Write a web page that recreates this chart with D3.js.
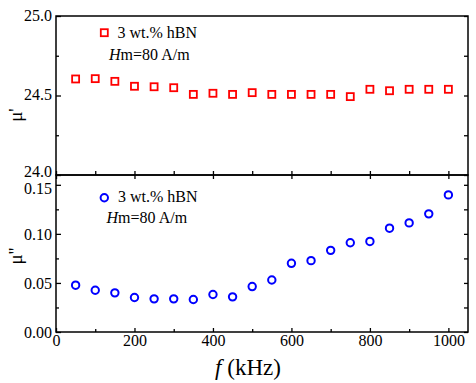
<!DOCTYPE html>
<html><head><meta charset="utf-8">
<script src="https://cdn.jsdelivr.net/npm/d3@7"></script>
<style>
body{margin:0;background:#fff;}
svg, svg text{font-family:"Liberation Serif","Times New Roman",serif !important;}
</style></head>
<body><svg id="c" width="476" height="383"></svg>
<script>
const freq = [50,100,150,200,250,300,350,400,450,500,550,600,650,700,750,800,850,900,950,1000];
const muReal = [24.604,24.606,24.589,24.558,24.555,24.549,24.507,24.514,24.507,24.518,24.507,24.507,24.507,24.507,24.493,24.539,24.530,24.539,24.539,24.539];
const muImag = [0.0477,0.0426,0.0399,0.0352,0.0338,0.0338,0.0331,0.0382,0.0358,0.0463,0.0530,0.0700,0.0727,0.0832,0.0910,0.0923,0.1058,0.1112,0.1204,0.1397];
const xTicks = [0,200,400,600,800,1000];
const xMinor = [100,300,500,700,900];
const topTicks = [24.0,24.5,25.0];
const topMinor = [24.25,24.75];
const botTicks = [0.00,0.05,0.10,0.15];
const botMinor = [0.025,0.075,0.125];
const legendText = "3 wt.% hBN";

const FF = "'Liberation Serif','Times New Roman',serif";
const svg = d3.select("#c");
const L = 56, R = 468;
const x = d3.scaleLinear().domain([0,1050]).range([L,R]);
const yT = d3.scaleLinear().domain([24,25]).range([175,16]);
const yB = d3.scaleLinear().domain([0,0.16]).range([332,175]);

function styleAxis(g){
  g.attr("font-family",FF);
  g.select(".domain").remove();
  g.selectAll(".tick line").attr("stroke","#000").attr("stroke-width",1.3);
  g.selectAll("text").style("font-family",FF).attr("font-size",16).attr("fill","#000");
}

// Top panel axes
svg.append("g").attr("transform",`translate(${L},0)`)
  .call(d3.axisLeft(yT).tickValues(topTicks).tickFormat(d3.format(".1f")).tickSize(-5).tickPadding(4)).call(styleAxis)
  .selectAll("text").attr("dy", d => d === 24 ? "0.1em" : "0.28em");
svg.append("g").attr("transform",`translate(${L},0)`)
  .call(d3.axisLeft(yT).tickValues(topMinor).tickFormat("").tickSize(-3)).call(styleAxis);
svg.append("g").attr("transform",`translate(${R},0)`)
  .call(d3.axisRight(yT).tickValues(topTicks.concat(topMinor)).tickFormat("").tickSize(-4)).call(styleAxis);
svg.append("g").attr("transform",`translate(0,175)`)
  .call(d3.axisBottom(x).tickValues(xTicks.concat(xMinor)).tickFormat("").tickSize(-4)).call(styleAxis);

// Bottom panel axes
svg.append("g").attr("transform",`translate(${L},0)`)
  .call(d3.axisLeft(yB).tickValues(botTicks).tickFormat(d3.format(".2f")).tickSize(-5).tickPadding(4)).call(styleAxis)
  .selectAll("text").attr("dy", d => d === 0.15 ? "0.55em" : "0.32em");
svg.append("g").attr("transform",`translate(${L},0)`)
  .call(d3.axisLeft(yB).tickValues(botMinor).tickFormat("").tickSize(-3)).call(styleAxis);
svg.append("g").attr("transform",`translate(${R},0)`)
  .call(d3.axisRight(yB).tickValues(botTicks.concat(botMinor)).tickFormat("").tickSize(-4)).call(styleAxis);
svg.append("g").attr("transform",`translate(0,175)`)
  .call(d3.axisTop(x).tickValues(xTicks).tickFormat("").tickSize(-4)).call(styleAxis);
svg.append("g").attr("transform",`translate(0,332)`)
  .call(d3.axisBottom(x).tickValues(xTicks).tickFormat(d3.format("d")).tickSize(-4).tickPadding(3)).call(styleAxis);
svg.append("g").attr("transform",`translate(0,332)`)
  .call(d3.axisBottom(x).tickValues(xMinor).tickFormat("").tickSize(-3)).call(styleAxis);

// frames
svg.append("rect").attr("x",L).attr("y",16).attr("width",R-L).attr("height",175-16)
  .attr("fill","none").attr("stroke","#000").attr("stroke-width",1.5);
svg.append("rect").attr("x",L).attr("y",175).attr("width",R-L).attr("height",332-175)
  .attr("fill","none").attr("stroke","#000").attr("stroke-width",1.5);

// data
const s = 7;
svg.append("g").selectAll("rect").data(freq).join("rect")
  .attr("x",(d)=>x(d)-s/2).attr("y",(d,i)=>yT(muReal[i])-s/2)
  .attr("width",s).attr("height",s).attr("fill","none").attr("stroke","#ff0000").attr("stroke-width",1.8);
svg.append("g").selectAll("circle").data(freq).join("circle")
  .attr("cx",(d)=>x(d)).attr("cy",(d,i)=>yB(muImag[i])).attr("r",3.7)
  .attr("fill","none").attr("stroke","#0000ff").attr("stroke-width",2);

// legends
svg.append("rect").attr("x",104.3-s/2).attr("y",32.7-s/2).attr("width",s).attr("height",s)
  .attr("fill","none").attr("stroke","#ff0000").attr("stroke-width",1.8);
svg.append("text").attr("x",117.5).attr("y",37.5).attr("font-size",16).text(legendText);
const h1 = svg.append("text").attr("x",109).attr("y",59.5).attr("font-size",16);
h1.append("tspan").attr("font-style","italic").text("H");
h1.append("tspan").text("m=80 A/m");

svg.append("circle").attr("cx",104.3).attr("cy",197.7).attr("r",3.7)
  .attr("fill","none").attr("stroke","#0000ff").attr("stroke-width",2);
svg.append("text").attr("x",118).attr("y",202).attr("font-size",16).text(legendText);
const h2 = svg.append("text").attr("x",106.5).attr("y",222.5).attr("font-size",16);
h2.append("tspan").attr("font-style","italic").text("H");
h2.append("tspan").text("m=80 A/m");

// axis titles
svg.append("text").attr("transform","translate(22,115) rotate(-90)").attr("text-anchor","middle")
  .attr("font-size",19).text("μ'");
svg.append("text").attr("transform","translate(22,256) rotate(-90)").attr("text-anchor","middle")
  .attr("font-size",19).text("μ''");
const xl = svg.append("text").attr("x",248).attr("y",375).attr("text-anchor","middle").attr("font-size",23);
xl.append("tspan").attr("font-style","italic").text("f");
xl.append("tspan").text(" (kHz)");
</script></body></html>
